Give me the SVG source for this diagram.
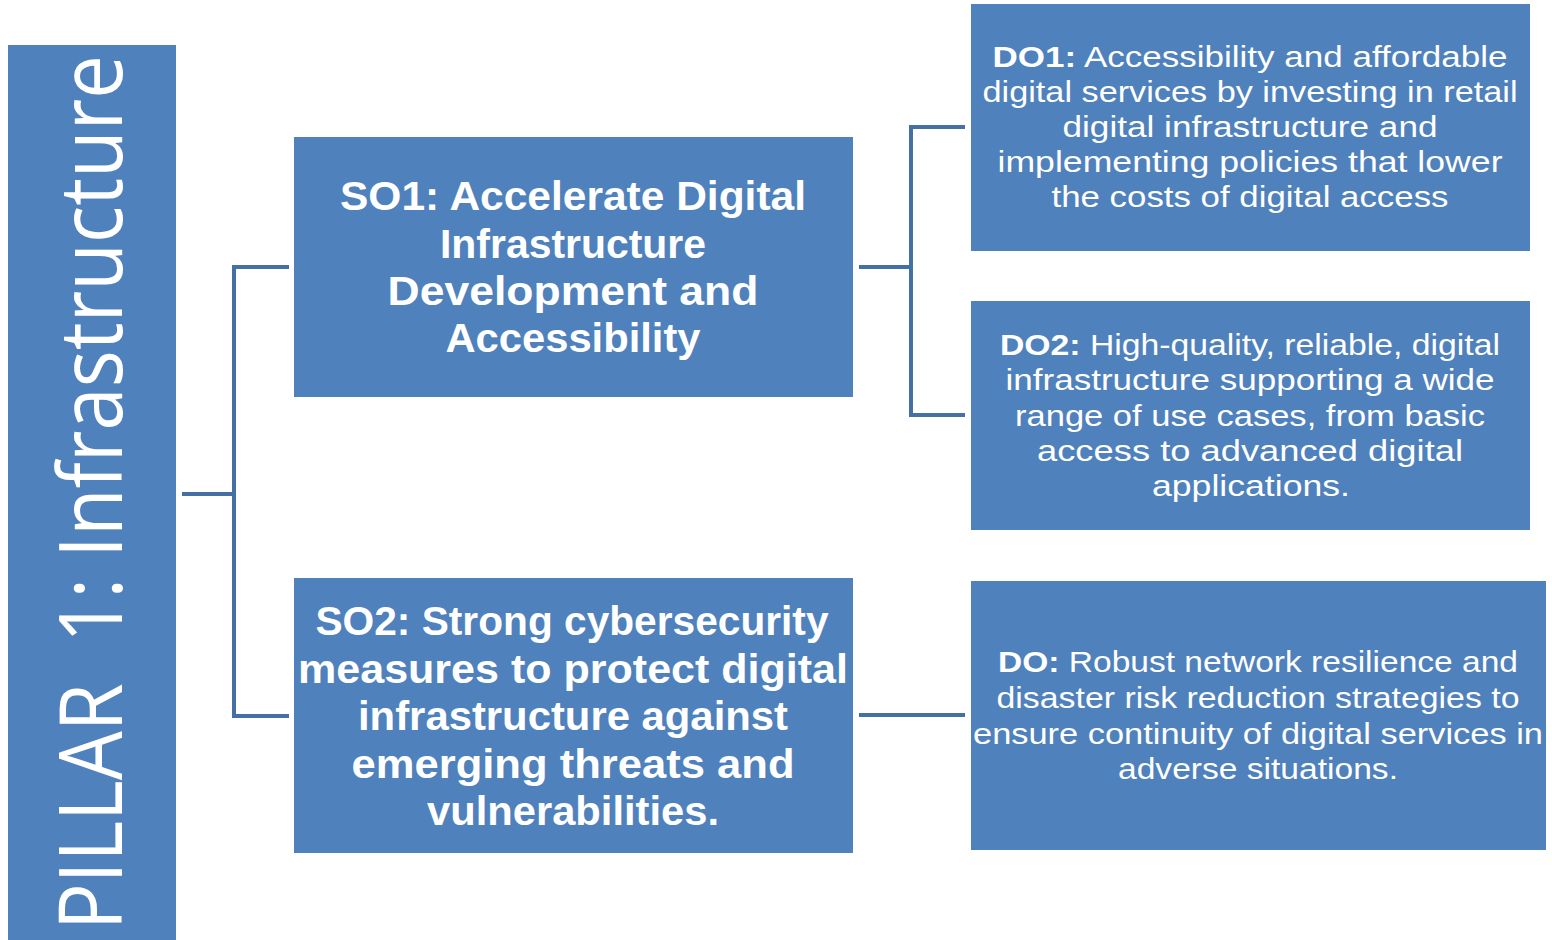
<svg xmlns="http://www.w3.org/2000/svg" width="1552" height="940" viewBox="0 0 1552 940">
<style>
.box{fill:#4f81bd;}
.t{fill:#fff;font-family:"Liberation Sans",Arial,sans-serif;text-anchor:middle;white-space:pre;}
.so{font-size:40px;font-weight:bold;}
.do{font-size:29px;}
.b{font-weight:bold;}
.con{stroke:#4470a6;stroke-width:4;fill:none;}
</style>
<rect width="1552" height="940" fill="#fff"/>
<g id="pillar">
<rect class="box" x="8" y="45" width="168" height="895"/>
<text class="t" style="text-anchor:start;font-size:78px;font-family:'Open Sans','Liberation Sans',sans-serif;" transform="translate(122,930) rotate(-90) scale(1,1.13)" textLength="875" lengthAdjust="spacingAndGlyphs">PILLAR  1: Infrastructure</text>
</g>
<g id="connectors">
<path class="con" d="M182,494 H234 M289,267 H234 V716 H289"/>
<path class="con" d="M859,267 H911 M965,127 H911 V415 H965"/>
<path class="con" d="M859,715 H965"/>
</g>
<g id="so1">
<rect class="box" x="294" y="137" width="559" height="260"/>
<text class="t so" x="573" y="210" textLength="466" lengthAdjust="spacingAndGlyphs">SO1: Accelerate Digital</text>
<text class="t so" x="573" y="258" textLength="266" lengthAdjust="spacingAndGlyphs">Infrastructure</text>
<text class="t so" x="573" y="305" textLength="371" lengthAdjust="spacingAndGlyphs">Development and</text>
<text class="t so" x="573" y="352" textLength="255" lengthAdjust="spacingAndGlyphs">Accessibility</text>
</g>
<g id="so2">
<rect class="box" x="294" y="578" width="559" height="275"/>
<text class="t so" x="572" y="635" textLength="513" lengthAdjust="spacingAndGlyphs">SO2: Strong cybersecurity</text>
<text class="t so" x="573" y="683" textLength="550" lengthAdjust="spacingAndGlyphs">measures to protect digital</text>
<text class="t so" x="573" y="730" textLength="430" lengthAdjust="spacingAndGlyphs">infrastructure against</text>
<text class="t so" x="573" y="778" textLength="443" lengthAdjust="spacingAndGlyphs">emerging threats and</text>
<text class="t so" x="573" y="825" textLength="292" lengthAdjust="spacingAndGlyphs">vulnerabilities.</text>
</g>
<g id="do1">
<rect class="box" x="971" y="4" width="559" height="247"/>
<text class="t do" x="1250" y="67" textLength="515" lengthAdjust="spacingAndGlyphs"><tspan class="b">DO1:</tspan> Accessibility and affordable</text>
<text class="t do" x="1250" y="102" textLength="535" lengthAdjust="spacingAndGlyphs">digital services by investing in retail</text>
<text class="t do" x="1250" y="137" textLength="375" lengthAdjust="spacingAndGlyphs">digital infrastructure and</text>
<text class="t do" x="1250" y="172" textLength="505" lengthAdjust="spacingAndGlyphs">implementing policies that lower</text>
<text class="t do" x="1250" y="207" textLength="397" lengthAdjust="spacingAndGlyphs">the costs of digital access</text>
</g>
<g id="do2">
<rect class="box" x="971" y="301" width="559" height="229"/>
<text class="t do" x="1250" y="355" textLength="500" lengthAdjust="spacingAndGlyphs"><tspan class="b">DO2:</tspan> High-quality, reliable, digital</text>
<text class="t do" x="1250" y="390" textLength="489" lengthAdjust="spacingAndGlyphs">infrastructure supporting a wide</text>
<text class="t do" x="1250" y="426" textLength="470" lengthAdjust="spacingAndGlyphs">range of use cases, from basic</text>
<text class="t do" x="1250" y="461" textLength="426" lengthAdjust="spacingAndGlyphs">access to advanced digital</text>
<text class="t do" x="1251" y="496" textLength="198" lengthAdjust="spacingAndGlyphs">applications.</text>
</g>
<g id="do3">
<rect class="box" x="971" y="581" width="575" height="269"/>
<text class="t do" x="1258" y="672" textLength="520" lengthAdjust="spacingAndGlyphs"><tspan class="b">DO:</tspan> Robust network resilience and</text>
<text class="t do" x="1258" y="708" textLength="523" lengthAdjust="spacingAndGlyphs">disaster risk reduction strategies to</text>
<text class="t do" x="1258" y="744" textLength="570" lengthAdjust="spacingAndGlyphs">ensure continuity of digital services in</text>
<text class="t do" x="1258" y="779" textLength="280" lengthAdjust="spacingAndGlyphs">adverse situations.</text>
</g>
</svg>
